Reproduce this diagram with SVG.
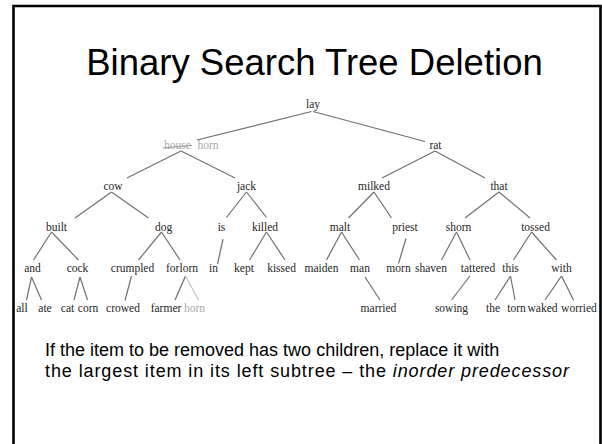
<svg xmlns="http://www.w3.org/2000/svg" width="602" height="444" viewBox="0 0 602 444">
  <style>
    .title { font-family: "Liberation Sans", Arial, sans-serif; font-size: 36.5px; fill: #000; }
    .body { font-family: "Liberation Sans", Arial, sans-serif; font-size: 18px; fill: #000; }
    .w { font-family: "Liberation Serif", "Times New Roman", serif; font-size: 11.5px; fill: #262626; text-anchor: middle; }
    .gone { fill: #a8a8a8; }
    .edge { stroke: #707070; stroke-width: 1.2; fill: none; }
    .edge.faint { stroke: #c4c4c4; }
  </style>
  <rect width="602" height="444" fill="#fff"/>
  <!-- slide frame (open at the bottom) -->
  <path d="M13.5,446 V6 H600.5 V446" fill="none" stroke="#000" stroke-width="2.6"/>
  <text class="title" x="314.5" y="75" text-anchor="middle">Binary Search Tree Deletion</text>

  <g id="connectors">
    <line class="edge" x1="311.5" y1="111.5" x2="197" y2="140"/>
    <line class="edge" x1="313" y1="111.5" x2="425" y2="141.5"/>
    <line class="edge" x1="181" y1="151" x2="127" y2="178"/>
    <line class="edge" x1="181" y1="151" x2="235" y2="178"/>
    <line class="edge" x1="435" y1="151" x2="382" y2="178"/>
    <line class="edge" x1="435" y1="151" x2="485" y2="178"/>
    <line class="edge" x1="111.5" y1="192" x2="75" y2="218"/>
    <line class="edge" x1="111.5" y1="192" x2="148.5" y2="218"/>
    <line class="edge" x1="246.5" y1="192" x2="226.5" y2="217.5"/>
    <line class="edge" x1="246.5" y1="192" x2="266.5" y2="217.5"/>
    <line class="edge" x1="374" y1="192" x2="348.5" y2="218"/>
    <line class="edge" x1="374" y1="192" x2="391.5" y2="218"/>
    <line class="edge" x1="499" y1="192" x2="465" y2="218"/>
    <line class="edge" x1="499" y1="192" x2="530" y2="218"/>
    <line class="edge" x1="51.5" y1="232" x2="33.5" y2="260"/>
    <line class="edge" x1="51.5" y1="232" x2="78.5" y2="260"/>
    <line class="edge" x1="161.5" y1="232" x2="138.5" y2="260"/>
    <line class="edge" x1="161.5" y1="232" x2="180" y2="260"/>
    <line class="edge" x1="223" y1="239" x2="217.5" y2="264"/>
    <line class="edge" x1="266.5" y1="232" x2="249.5" y2="260"/>
    <line class="edge" x1="266.5" y1="232" x2="285" y2="260"/>
    <line class="edge" x1="341.5" y1="232" x2="326.5" y2="260"/>
    <line class="edge" x1="341.5" y1="232" x2="359.5" y2="260"/>
    <line class="edge" x1="406" y1="238.5" x2="398.5" y2="263.5"/>
    <line class="edge" x1="456.5" y1="232" x2="441.5" y2="260"/>
    <line class="edge" x1="456.5" y1="232" x2="470" y2="260"/>
    <line class="edge" x1="531.5" y1="232" x2="513.5" y2="260"/>
    <line class="edge" x1="531.5" y1="232" x2="556.5" y2="260"/>
    <line class="edge" x1="31.5" y1="277" x2="26.5" y2="300"/>
    <line class="edge" x1="31.5" y1="277" x2="41.5" y2="300"/>
    <line class="edge" x1="80" y1="277" x2="74" y2="300"/>
    <line class="edge" x1="80" y1="277" x2="87.5" y2="300"/>
    <line class="edge" x1="131.5" y1="276" x2="125" y2="300.5"/>
    <line class="edge" x1="185.5" y1="276" x2="175" y2="300"/>
    <line class="edge faint" x1="185.5" y1="276" x2="198.5" y2="300"/>
    <line class="edge" x1="365" y1="277" x2="380" y2="300"/>
    <line class="edge" x1="470" y1="276" x2="451.5" y2="300"/>
    <line class="edge" x1="510.5" y1="276" x2="495" y2="300"/>
    <line class="edge" x1="510.5" y1="276" x2="515" y2="300"/>
    <line class="edge" x1="561.5" y1="276" x2="545" y2="300"/>
    <line class="edge" x1="561.5" y1="276" x2="573.5" y2="300"/>
  </g>

  <g id="n-lay"><text class="w" x="313" y="108">lay</text></g>
  <g id="n-house-horn">
    <!-- the deleted key, struck out, next to its replacement -->
    <text class="w gone" x="164" y="149" style="text-anchor:start">house</text>
    <line x1="163" y1="148" x2="192" y2="145.5" stroke="#9a9a9a" stroke-width="1"/>
    <text class="w gone" x="208" y="149">horn</text>
  </g>
  <g id="n-rat"><text class="w" x="435.5" y="148.5">rat</text></g>
  <g id="n-cow"><text class="w" x="113" y="190">cow</text></g>
  <g id="n-jack"><text class="w" x="246.5" y="190">jack</text></g>
  <g id="n-milked"><text class="w" x="374" y="190">milked</text></g>
  <g id="n-that"><text class="w" x="499" y="190">that</text></g>
  <g id="n-built"><text class="w" x="56.5" y="231">built</text></g>
  <g id="n-dog"><text class="w" x="163.5" y="231">dog</text></g>
  <g id="n-is"><text class="w" x="221.5" y="231">is</text></g>
  <g id="n-killed"><text class="w" x="265" y="231">killed</text></g>
  <g id="n-malt"><text class="w" x="340" y="231">malt</text></g>
  <g id="n-priest"><text class="w" x="405" y="231">priest</text></g>
  <g id="n-shorn"><text class="w" x="458.5" y="231">shorn</text></g>
  <g id="n-tossed"><text class="w" x="535.5" y="231">tossed</text></g>
  <g id="n-and"><text class="w" x="32.5" y="272">and</text></g>
  <g id="n-cock"><text class="w" x="77.5" y="272">cock</text></g>
  <g id="n-crumpled"><text class="w" x="132.5" y="272">crumpled</text></g>
  <g id="n-forlorn"><text class="w" x="182" y="272">forlorn</text></g>
  <g id="n-in"><text class="w" x="213.5" y="272">in</text></g>
  <g id="n-kept"><text class="w" x="244" y="272">kept</text></g>
  <g id="n-kissed"><text class="w" x="281.5" y="272">kissed</text></g>
  <g id="n-maiden"><text class="w" x="321.5" y="272">maiden</text></g>
  <g id="n-man"><text class="w" x="360" y="272">man</text></g>
  <g id="n-morn"><text class="w" x="398.5" y="272">morn</text></g>
  <g id="n-shaven"><text class="w" x="431" y="272">shaven</text></g>
  <g id="n-tattered"><text class="w" x="478" y="272">tattered</text></g>
  <g id="n-this"><text class="w" x="510.5" y="272">this</text></g>
  <g id="n-with"><text class="w" x="561.5" y="272">with</text></g>
  <g id="n-all"><text class="w" x="22" y="312">all</text></g>
  <g id="n-ate"><text class="w" x="45" y="312">ate</text></g>
  <g id="n-cat"><text class="w" x="67.5" y="312">cat</text></g>
  <g id="n-corn"><text class="w" x="88" y="312">corn</text></g>
  <g id="n-crowed"><text class="w" x="123" y="312">crowed</text></g>
  <g id="n-farmer"><text class="w" x="166" y="312">farmer</text></g>
  <g id="n-horn"><text class="w gone" x="194.5" y="312">horn</text></g>
  <g id="n-married"><text class="w" x="378.5" y="312">married</text></g>
  <g id="n-sowing"><text class="w" x="451.5" y="312">sowing</text></g>
  <g id="n-the"><text class="w" x="493" y="312">the</text></g>
  <g id="n-torn"><text class="w" x="516.5" y="312">torn</text></g>
  <g id="n-waked"><text class="w" x="542.5" y="312">waked</text></g>
  <g id="n-worried"><text class="w" x="579" y="312">worried</text></g>

  <text class="body" x="45" y="356">If the item to be removed has two children, replace it with</text>
  <text class="body" x="45" y="377" textLength="524" lengthAdjust="spacing">the largest item in its left subtree – the <tspan font-style="italic">inorder predecessor</tspan></text>
</svg>
